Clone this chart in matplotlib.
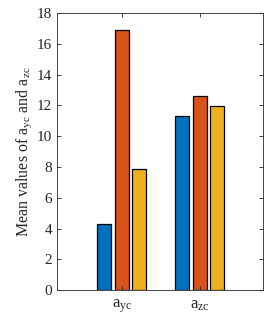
import matplotlib
matplotlib.use("Agg")
import matplotlib.pyplot as plt
import numpy as np

categories = ["$\\mathregular{a_{yc}}$", "$\\mathregular{a_{zc}}$"]
series1 = [4.3, 11.3]
series2 = [16.9, 12.6]
series3 = [7.85, 11.95]
colors = ["#0072BD", "#D95319", "#EDB120"]

plt.rcParams["font.family"] = "Liberation Serif"
plt.rcParams["mathtext.fontset"] = "custom"
plt.rcParams["mathtext.rm"] = "Liberation Serif"
plt.rcParams["mathtext.it"] = "Liberation Serif"

fig = plt.figure(figsize=(2.7, 3.15), dpi=100)
ax = fig.add_axes([0.211, 0.079, 0.763, 0.88])

x = np.arange(1, len(categories) + 1)
off = 0.224
w = 0.18
for i, (vals, c) in enumerate(zip([series1, series2, series3], colors)):
    ax.bar(x + (i - 1) * off, vals, width=w, color=c, edgecolor="black", linewidth=0.9)

ax.set_xlim(0.167, 2.81)
ax.set_ylim(0, 18)
ax.set_yticks(np.arange(0, 19, 2))
ax.set_xticks(x)
ax.set_xticklabels(categories, fontsize=12)
ax.tick_params(axis="x", pad=5)
ax.tick_params(axis="y", labelsize=11)
ax.tick_params(direction="in", top=True, right=True, length=3, width=0.6, colors="#262626", labelcolor="#262626")
for s in ax.spines.values():
    s.set_color("#262626")
    s.set_linewidth(0.6)
ax.set_ylabel("Mean values of $\\mathregular{a_{yc}}$ and $\\mathregular{a_{zc}}$", fontsize=11.5, color="#262626", labelpad=2)

fig.savefig("out.png", dpi=100)
